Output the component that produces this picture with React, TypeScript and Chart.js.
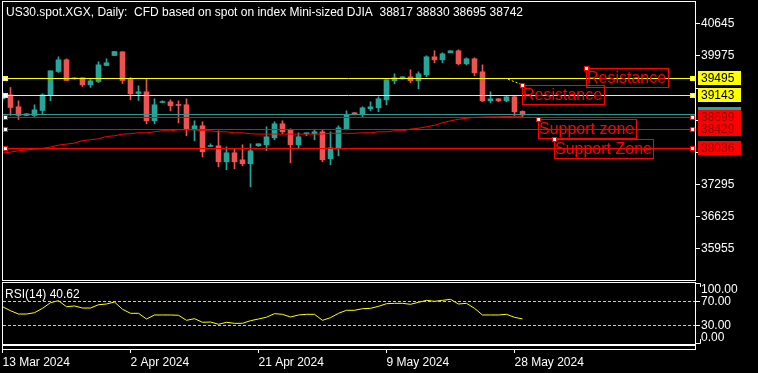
import React, { useEffect, useRef } from 'react';
import { Chart, registerables } from 'chart.js';

Chart.register(...registerables);

const FONT = '"Liberation Sans", Arial, Helvetica, sans-serif';

// ---------------- data ----------------
const symbolTitle = 'US30.spot.XGX, Daily:  CFD based on spot on index Mini-sized DJIA';

const opens = [39080, 39163, 38913, 38767, 38732, 38836, 39163, 39650, 39894, 39497,
  39518, 39372, 39440, 39775, 39983, 40061, 39483, 39191, 39226, 38621,
  39003, 39017, 38955, 38955, 38433, 38517, 38085, 38099, 37765, 37953,
  37807, 37724, 38099, 38120, 38266, 38558, 38433, 38120, 38350, 38350,
  38391, 37828, 38057, 38454, 38788, 38746, 38871, 38892, 39059, 39455,
  39497, 39539, 39455, 39581, 39956, 39894, 40040, 40082, 39810, 39915,
  39643, 39038, 39080, 39038, 39122, 38817];
const highs = [39226, 39316, 39038, 38770, 38955, 39184, 39664, 39956, 39915, 39518,
  39518, 39483, 39852, 39915, 40067, 40061, 39524, 39351, 39483, 39080,
  39038, 39059, 39038, 39080, 38621, 38600, 38141, 38412, 38078, 38036,
  38120, 38141, 38141, 38496, 38600, 38621, 38454, 38370, 38370, 38433,
  38433, 38391, 38517, 38829, 38795, 38913, 39017, 39122, 39476, 39602,
  39539, 39685, 39643, 39977, 40082, 40040, 40082, 40102, 39935, 39935,
  39789, 39226, 39085, 39142, 39142, 38830];
const lows = [39038, 38732, 38648, 38728, 38710, 38746, 39038, 39629, 39462, 39490,
  39337, 39316, 39420, 39770, 39983, 39399, 39059, 39044, 38558, 38558,
  38996, 38829, 38579, 38308, 38204, 37870, 38080, 37661, 37598, 37619,
  37682, 37243, 38085, 37995, 38225, 38350, 37745, 38057, 38308, 38225,
  37765, 37703, 37890, 38433, 38746, 38704, 38829, 38809, 38955, 39393,
  39490, 39414, 39289, 39539, 39831, 39831, 40040, 39789, 39789, 39560,
  39017, 38996, 39017, 39017, 38725, 38695];
const closes = [39163, 38898, 38732, 38732, 38850, 39163, 39664, 39894, 39462, 39518,
  39372, 39455, 39789, 39831, 40067, 39462, 39184, 39226, 38621, 38955,
  39017, 38934, 38941, 38433, 38517, 37974, 38106, 37765, 37953, 37765,
  37724, 37995, 38141, 38287, 38558, 38391, 38120, 38287, 38370, 38391,
  37807, 38057, 38475, 38746, 38746, 38892, 38913, 39080, 39476, 39518,
  39539, 39455, 39602, 39956, 39894, 40019, 40082, 39810, 39915, 39622,
  39038, 39080, 39038, 39122, 38809, 38742];
const maValues = [37946, 37967, 37995, 38015, 38026, 38047, 38072, 38113, 38134, 38155,
  38209, 38224, 38245, 38293, 38308, 38343, 38350, 38370, 38370, 38391,
  38412, 38412, 38433, 38433, 38433, 38412, 38412, 38391, 38391, 38370,
  38370, 38350, 38343, 38343, 38343, 38343, 38343, 38343, 38343, 38343,
  38343, 38360, 38360, 38360, 38360, 38370, 38370, 38391, 38391, 38412,
  38412, 38448, 38464, 38496, 38527, 38579, 38621, 38652, 38673, 38694,
  38698, 38704, 38704, 38710, 38715, 38715];
const rsiValues = [61, 54.3, 48.8, 48.8, 51, 58.3, 67.7, 71, 61, 62.2,
  58.8, 58.8, 64.3, 65.5, 68.8, 56.7, 50, 50, 40.5, 47.2,
  47.2, 47.2, 46.7, 38.3, 41, 35, 35.5, 31.7, 35, 33.3,
  33.3, 37.7, 40.5, 43.5, 49.4, 48.3, 43.8, 47.2, 48.3, 48.3,
  38.3, 42.7, 50, 55, 55, 57.7, 58.3, 61.6, 66, 66.6,
  66.6, 65, 68.3, 71.6, 70, 71.6, 73.3, 65.5, 66.6, 58.3,
  47.2, 47.2, 47.2, 48.3, 43.3, 40.62];

const priceTicks = [40645, 39975, 39305, 38635, 37965, 37295, 36625, 35955];
const rsiTicks = [100, 70, 30, 0];
const rsiLevels = [70, 30];
const dateTickBars = [0, 16, 32, 48, 64];
const dateTickLabels = ['13 Mar 2024', '2 Apr 2024', '21 Apr 2024', '9 May 2024', '28 May 2024'];

const levelPrices = [39495, 39143, 38699, 38429, 38036];
const levelColors = ['#ffff00', '#ffff00', '#ff0000', '#ff0000', '#ff0000'];
const levelTextColors = ['#000000', '#000000', '#8b0000', '#8b0000', '#8b0000'];
const bidPrice = 38742;

const noteTexts = ['Resistance', 'Resistance', 'Support zone', 'Support Zone'];
const noteBars = [73, 65, 67, 69];
const notePrices = [39720, 39366, 38656, 38239];

const trendBars = [63.2, 65];
const trendPrices = [39487, 39370];

// ---------------- layout / style ----------------
const W = 758;
const MAIN_H = 282;
const RSI_H = 91;
const AXIS_W = 63;
const X_MIN = -0.0625;
const X_MAX = 86.5625;
const PRICE_MAX = 41121;
const PRICE_MIN = 35298;
const RSI_MAX = 102.17;
const RSI_MIN = -9.5;
const TEAL = '#26a69a';
const CRED = '#ef5350';
const BID_COLOR = '#2a9a90';
const HIDE_NEAR = 200;

function hLine(ctx: CanvasRenderingContext2D, x1: number, x2: number, y: number) {
  ctx.beginPath();
  ctx.moveTo(x1, y);
  ctx.lineTo(x2, y);
  ctx.stroke();
}
function marker(ctx: CanvasRenderingContext2D, cx: number, cy: number, color: string) {
  ctx.fillStyle = color;
  ctx.fillRect(cx - 2, cy - 2, 5, 5);
  ctx.fillStyle = '#ffffff';
  ctx.fillRect(cx - 1, cy - 1, 3, 3);
}

const fixYAxis = (s: any) => {
  s.width = AXIS_W;
  s.paddingTop = 0;
  s.paddingBottom = 0;
};

const mainOverlay = {
  id: 'mainOverlay',
  afterDraw(chart: any) {
    const { ctx, chartArea: ca } = chart;
    const x = chart.scales.x;
    const y = chart.scales.y;
    const L = Math.round(ca.left);
    const R = Math.round(ca.right);
    const T = Math.round(ca.top);
    const B = Math.round(ca.bottom);
    const row = (p: number) => Math.floor(y.getPixelForValue(p));
    ctx.save();
    ctx.lineWidth = 1;
    // bid line
    ctx.strokeStyle = BID_COLOR;
    hLine(ctx, L, R, row(bidPrice) + 0.5);
    // levels
    levelPrices.forEach((p, i) => {
      ctx.strokeStyle = levelColors[i];
      hLine(ctx, L, R, row(p) + 0.5);
    });
    // short dotted trend
    ctx.strokeStyle = '#ffff00';
    ctx.setLineDash([2, 2]);
    ctx.beginPath();
    ctx.moveTo(x.getPixelForValue(trendBars[0]), y.getPixelForValue(trendPrices[0]));
    ctx.lineTo(x.getPixelForValue(trendBars[1]), y.getPixelForValue(trendPrices[1]));
    ctx.stroke();
    ctx.setLineDash([]);
    levelPrices.forEach((p, i) => {
      marker(ctx, L + 3, row(p), levelColors[i]);
      marker(ctx, R - 3, row(p), levelColors[i]);
    });
    // notes
    ctx.font = `16px ${FONT}`;
    ctx.textAlign = 'left';
    ctx.textBaseline = 'alphabetic';
    noteTexts.forEach((t, i) => {
      const px = Math.floor(x.getPixelForValue(noteBars[i]));
      const py = Math.round(y.getPixelForValue(notePrices[i]));
      const w = Math.ceil(ctx.measureText(t).width) + 2;
      ctx.strokeStyle = '#ff0000';
      ctx.strokeRect(px + 0.5, py + 0.5, w, 19);
      ctx.fillStyle = '#ff0000';
      ctx.fillText(t, px + 1, py + 15);
      marker(ctx, px, py, '#ff0000');
    });
    // pane border
    ctx.strokeStyle = '#ffffff';
    ctx.strokeRect(L + 0.5, T + 0.5, R - L, B - T);
    // price boxes on the axis
    const bx = R + 3;
    const bw = 43;
    ctx.font = `12px ${FONT}`;
    ctx.textBaseline = 'middle';
    ctx.fillStyle = TEAL;
    ctx.fillRect(bx, row(bidPrice) - 7, bw, 14);
    levelPrices.forEach((p, i) => {
      ctx.fillStyle = levelColors[i];
      ctx.fillRect(bx, row(p) - 7, bw, 14);
    });
    levelPrices.forEach((p, i) => {
      ctx.fillStyle = levelTextColors[i];
      ctx.fillText(String(p), bx + 3, row(p) + 1);
    });
    // title
    const last = closes.length - 1;
    ctx.fillStyle = '#ffffff';
    ctx.textBaseline = 'alphabetic';
    ctx.fillText(`${symbolTitle}  ${opens[last]} ${highs[last]} ${lows[last]} ${closes[last]}`, 6, 16);
    ctx.restore();
  },
};

const rsiOverlay = {
  id: 'rsiOverlay',
  afterDraw(chart: any) {
    const { ctx, chartArea: ca } = chart;
    const y = chart.scales.y;
    const L = Math.round(ca.left);
    const R = Math.round(ca.right);
    ctx.save();
    ctx.lineWidth = 1;
    ctx.strokeStyle = '#c8c8c8';
    ctx.setLineDash([3, 2]);
    rsiLevels.forEach((v) => hLine(ctx, L + 1, R, Math.round(y.getPixelForValue(v)) + 0.5));
    ctx.setLineDash([]);
    ctx.strokeStyle = '#ffffff';
    ctx.strokeRect(L + 0.5, 0.5, R - L, 62);
    ctx.strokeRect(L + 0.5, 63.5, R - L, 4);
    // end brackets for 100 / 0
    const y100 = Math.round(y.getPixelForValue(rsiTicks[0]));
    const y0 = Math.round(y.getPixelForValue(rsiTicks[rsiTicks.length - 1]));
    ctx.beginPath();
    ctx.moveTo(R, y100 + 0.5);
    ctx.lineTo(R + 5.5, y100 + 0.5);
    ctx.lineTo(R + 5.5, y100 + 4);
    ctx.moveTo(R + 5.5, y0 - 4);
    ctx.lineTo(R + 5.5, y0 + 0.5);
    ctx.lineTo(R, y0 + 0.5);
    ctx.stroke();
    ctx.fillStyle = '#ffffff';
    ctx.font = `12px ${FONT}`;
    ctx.textBaseline = 'middle';
    ctx.textAlign = 'left';
    ctx.fillText(rsiTicks[0].toFixed(2), R + 6, y100 + 7);
    ctx.fillText(rsiTicks[rsiTicks.length - 1].toFixed(2), R + 6, y0 - 5);
    ctx.textBaseline = 'alphabetic';
    ctx.fillText(`RSI(14) ${rsiValues[rsiValues.length - 1].toFixed(2)}`, 5, 16);
    ctx.restore();
  },
};

export default function App() {
  const mainRef = useRef<HTMLCanvasElement>(null);
  const rsiRef = useRef<HTMLCanvasElement>(null);

  useEffect(() => {
    if (!mainRef.current || !rsiRef.current) return;
    const idx = closes.map((_, i) => i);
    const colors = closes.map((c, i) => (c >= opens[i] ? TEAL : CRED));

    const main = new Chart(mainRef.current, {
      type: 'bar',
      data: {
        datasets: [
          {
            type: 'bar',
            data: idx.map((k) => ({ x: k, y: [lows[k], highs[k]] })) as any,
            backgroundColor: colors,
            barThickness: 1,
            grouped: false,
            minBarLength: 1,
            borderWidth: 0,
            order: 3,
          } as any,
          {
            type: 'bar',
            data: idx.map((k) => ({ x: k, y: [opens[k], closes[k]] })) as any,
            backgroundColor: colors,
            barThickness: 5,
            grouped: false,
            minBarLength: 1,
            borderWidth: 0,
            order: 2,
          } as any,
          {
            type: 'line',
            data: idx.map((k) => ({ x: k, y: maValues[k] })) as any,
            borderColor: '#ff0000',
            borderWidth: 1,
            pointRadius: 0,
            tension: 0,
            order: 1,
          } as any,
        ],
      },
      options: {
        responsive: false,
        animation: false,
        devicePixelRatio: 1,
        events: [],
        layout: { padding: { left: 2, top: 1, right: 0, bottom: 2 } },
        plugins: { legend: { display: false }, tooltip: { enabled: false } },
        scales: {
          x: { type: 'linear', display: false, min: X_MIN, max: X_MAX, offset: false },
          y: {
            type: 'linear',
            position: 'right',
            min: PRICE_MIN,
            max: PRICE_MAX,
            afterFit: fixYAxis,
            afterBuildTicks: (s: any) => {
              s.ticks = priceTicks.map((v) => ({ value: v }));
            },
            ticks: {
              color: '#ffffff',
              font: { family: FONT, size: 12 },
              padding: 1,
              callback: (v: any) =>
                levelPrices.some((p) => Math.abs(p - v) < HIDE_NEAR) ? '' : String(v),
            },
            grid: { drawOnChartArea: false, drawTicks: true, tickLength: 5, color: '#ffffff' },
            border: { display: false },
          },
        },
      } as any,
      plugins: [mainOverlay],
    });

    const rsi = new Chart(rsiRef.current, {
      type: 'line',
      data: {
        datasets: [
          {
            data: idx.map((k) => ({ x: k, y: rsiValues[k] })) as any,
            borderColor: '#ffff00',
            borderWidth: 1,
            pointRadius: 0,
            tension: 0,
          },
        ],
      },
      options: {
        responsive: false,
        animation: false,
        devicePixelRatio: 1,
        events: [],
        layout: { padding: { left: 2, top: 0, right: 0, bottom: 0 } },
        plugins: { legend: { display: false }, tooltip: { enabled: false } },
        scales: {
          x: {
            type: 'linear',
            position: 'bottom',
            min: X_MIN,
            max: X_MAX,
            offset: false,
            afterFit: (s: any) => {
              s.height = 24;
              s.paddingLeft = 0;
              s.paddingRight = 0;
            },
            afterBuildTicks: (s: any) => {
              s.ticks = dateTickBars.map((v) => ({ value: v }));
            },
            ticks: {
              color: '#ffffff',
              font: { family: FONT, size: 12 },
              align: 'start',
              maxRotation: 0,
              minRotation: 0,
              autoSkip: false,
              padding: 2,
              callback: (v: any) => {
                const i = dateTickBars.indexOf(v);
                return i >= 0 ? dateTickLabels[i] : '';
              },
            },
            grid: { drawOnChartArea: false, drawTicks: true, tickLength: 4, color: '#ffffff' },
            border: { display: false },
          },
          y: {
            type: 'linear',
            position: 'right',
            min: RSI_MIN,
            max: RSI_MAX,
            afterFit: fixYAxis,
            afterBuildTicks: (s: any) => {
              s.ticks = rsiTicks.map((v) => ({ value: v }));
            },
            ticks: {
              color: '#ffffff',
              font: { family: FONT, size: 12 },
              padding: 1,
              callback: (v: any) => (rsiLevels.includes(v) ? Number(v).toFixed(2) : ''),
            },
            grid: {
              drawOnChartArea: false,
              drawTicks: true,
              tickLength: 5,
              color: (c: any) => (c.tick && rsiLevels.includes(c.tick.value) ? '#ffffff' : 'rgba(0,0,0,0)'),
            },
            border: { display: false },
          },
        },
      } as any,
      plugins: [rsiOverlay],
    });

    return () => {
      main.destroy();
      rsi.destroy();
    };
  }, []);

  return (
    <div style={{ position: 'absolute', left: 0, top: 0, width: W, height: MAIN_H + RSI_H, background: '#000', overflow: 'hidden' }}>
      <canvas ref={mainRef} width={W} height={MAIN_H} style={{ position: 'absolute', left: 0, top: 0, display: 'block' }} />
      <canvas ref={rsiRef} width={W} height={RSI_H} style={{ position: 'absolute', left: 0, top: MAIN_H, display: 'block' }} />
    </div>
  );
}
